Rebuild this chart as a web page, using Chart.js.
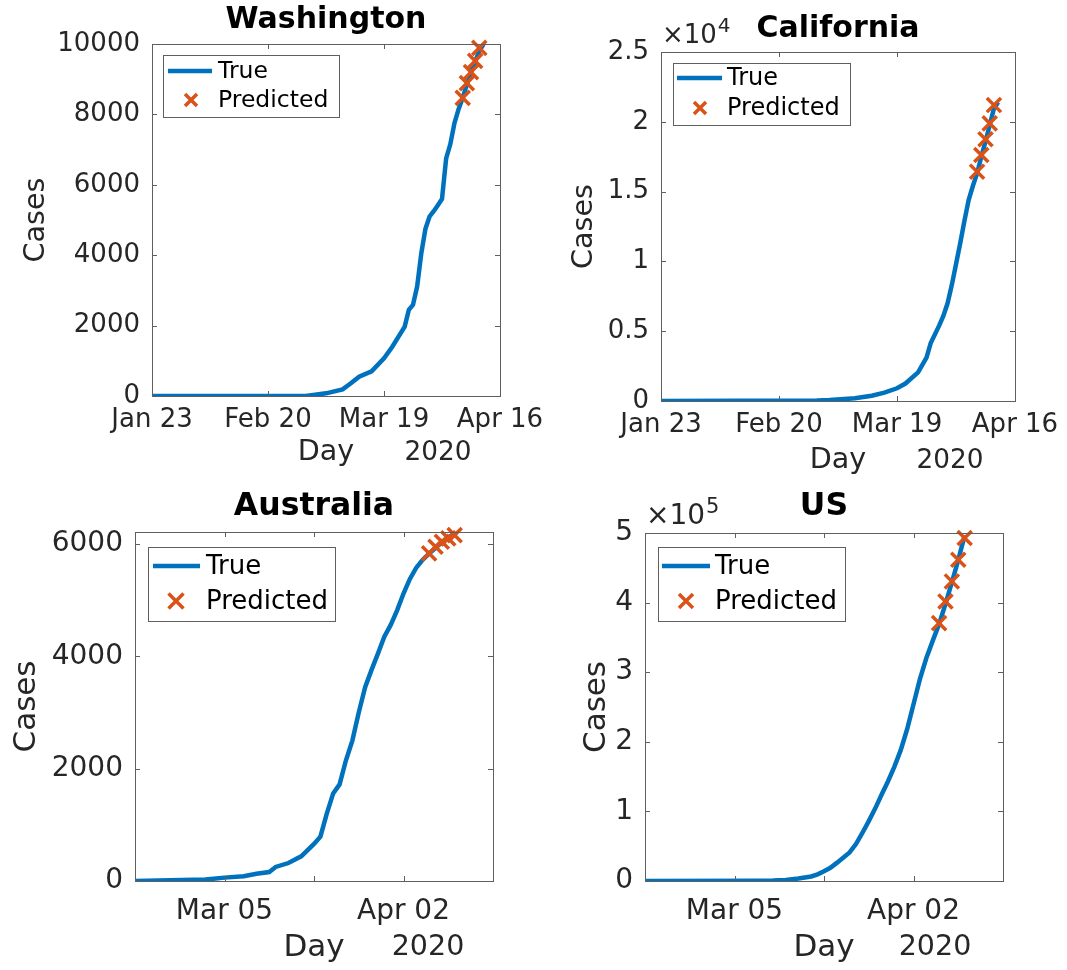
<!DOCTYPE html>
<html>
<head>
<meta charset="utf-8">
<script src="https://cdn.jsdelivr.net/npm/chart.js@4.4.1/dist/chart.umd.min.js"></script>
<style>
body { margin: 0; background: #fff; }
#wrap { position: relative; width: 1067px; height: 970px; overflow: hidden; }
canvas { position: absolute; }
</style>
</head>
<body>
<div id="wrap">
<canvas id="wa" width="545" height="485" style="left:0;top:0"></canvas>
<canvas id="ca" width="534" height="485" style="left:533px;top:0"></canvas>
<canvas id="au" width="545" height="485" style="left:0;top:485px"></canvas>
<canvas id="us" width="534" height="485" style="left:533px;top:485px"></canvas>
</div>
<script>
// days are day-of-year 2020 (Jan 23 = 23, Mar 05 = 65, Apr 16 = 107)

// Washington
var waTrueDays  = [23, 60, 61, 65, 69, 71, 73, 76, 79, 81, 84, 85, 86, 87, 88, 89, 90, 91, 92, 93, 94, 95, 96, 97, 98, 99, 100, 101, 102, 103];
var waTrueCases = [0, 0, 15, 76, 189, 360, 549, 700, 1070, 1400, 1970, 2450, 2590, 3110, 4050, 4750, 5100, 5250, 5420, 5600, 6750, 7150, 7750, 8150, 8470, 8850, 9200, 9500, 9800, 9990];
var waPredDays  = [98, 99, 100, 101, 102];
var waPredCases = [8470, 8890, 9200, 9520, 9890];

// California
var caTrueDays  = [23, 60, 63, 69, 73, 76, 79, 81, 84, 86, 87, 89, 90, 91, 92, 93, 94, 95, 96, 97, 98, 99, 100, 101, 102, 103];
var caTrueCases = [0, 40, 72, 190, 380, 600, 910, 1250, 2050, 3100, 4150, 5400, 6100, 7000, 8300, 9800, 11300, 12900, 14400, 15400, 16300, 17500, 18600, 19750, 20950, 21400];
var caPredDays  = [98, 99, 100, 101, 102];
var caPredCases = [16425, 17620, 18750, 19890, 21200];

// Australia
var auTrueDays  = [51, 62, 65, 68, 70, 72, 73, 75, 77, 79, 80, 81, 82, 83, 84, 85, 86, 87, 88, 89, 90, 91, 92, 93, 94, 95, 96, 97, 98, 99, 100, 101];
var auTrueCases = [0, 25, 60, 85, 130, 160, 250, 320, 440, 660, 790, 1200, 1560, 1720, 2150, 2500, 3000, 3450, 3760, 4050, 4350, 4560, 4820, 5120, 5380, 5580, 5720, 5830, 5930, 6030, 6110, 6200];
var auPredDays  = [97, 98, 99, 100, 101];
var auPredCases = [5834, 5952, 6041, 6101, 6160];

// US
var usTrueDays  = [51, 69, 71, 73, 75, 77, 78, 79, 80, 81, 82, 83, 84, 85, 86, 87, 88, 89, 90, 91, 92, 93, 94, 95, 96, 97, 98, 99, 100, 101];
var usTrueCases = [0, 200, 600, 1500, 3500, 6500, 9500, 14000, 19000, 26000, 33500, 41000, 53000, 69000, 86000, 104000, 124000, 143000, 164000, 188000, 218000, 254000, 290000, 320000, 345000, 369000, 398000, 429000, 461000, 496500];
var usPredDays  = [97, 98, 99, 100, 101];
var usPredCases = [370500, 401600, 430400, 461600, 492800];

// ticks
var longTicks   = [23, 51, 79, 107];
var longLabels  = ['Jan 23', 'Feb 20', 'Mar 19', 'Apr 16'];
var shortTicks  = [51, 65, 79, 93, 107];
var shortLabels = ['', 'Mar 05', '', 'Apr 02', ''];
var waYTicks  = [0, 2000, 4000, 6000, 8000, 10000];
var waYLabels = ['0', '2000', '4000', '6000', '8000', '10000'];
var caYTicks  = [0, 5000, 10000, 15000, 20000, 25000];
var caYLabels = ['0', '0.5', '1', '1.5', '2', '2.5'];
var auYTicks  = [0, 2000, 4000, 6000];
var auYLabels = ['0', '2000', '4000', '6000'];
var usYTicks  = [0, 100000, 200000, 300000, 400000, 500000];
var usYLabels = ['0', '1', '2', '3', '4', '5'];

var FONT = 'DejaVu Sans';
var BLUE = '#0072BD';
var ORANGE = '#D95319';
var INK = '#262626';
var AXIS = '#5f5f5f';

function drawX(ctx, x, y, h, w) {
  ctx.beginPath();
  ctx.moveTo(x - h, y - h); ctx.lineTo(x + h, y + h);
  ctx.moveTo(x - h, y + h); ctx.lineTo(x + h, y - h);
  ctx.lineWidth = w;
  ctx.stroke();
}

// matlab style box, inward ticks, legend, year and exponent
var matlabBox = {
  id: 'matlab',
  afterDraw: function(chart, args, o) {
    var ctx = chart.ctx, a = chart.chartArea;
    var xs = chart.scales.x, ys = chart.scales.y;
    ctx.save();
    ctx.strokeStyle = AXIS;
    ctx.lineWidth = 1;
    ctx.strokeRect(Math.round(a.left) + 0.5, Math.round(a.top) + 0.5, Math.round(a.right - a.left), Math.round(a.bottom - a.top));
    ctx.beginPath();
    xs.ticks.forEach(function(t) {
      var px = Math.round(xs.getPixelForValue(t.value)) + 0.5;
      ctx.moveTo(px, a.bottom); ctx.lineTo(px, a.bottom - 5);
      ctx.moveTo(px, a.top); ctx.lineTo(px, a.top + 5);
    });
    ys.ticks.forEach(function(t) {
      var py = Math.round(ys.getPixelForValue(t.value)) + 0.5;
      ctx.moveTo(a.left, py); ctx.lineTo(a.left + 5, py);
      ctx.moveTo(a.right, py); ctx.lineTo(a.right - 5, py);
    });
    ctx.stroke();

    // year under the date axis
    ctx.fillStyle = INK;
    ctx.font = o.labelSize * 0.92 + 'px "' + FONT + '"';
    ctx.textAlign = 'center';
    ctx.textBaseline = 'middle';
    ctx.fillText('2020', o.yearX, o.dayY);

    // exponent
    if (o.expo) {
      ctx.textAlign = 'left';
      ctx.textBaseline = 'alphabetic';
      ctx.font = o.tickSize + 'px "' + FONT + '"';
      var base = '\u00d710';
      ctx.fillText(base, a.left + 1, o.expo.y);
      var bw = ctx.measureText(base).width;
      ctx.font = Math.round(o.tickSize * 0.75) + 'px "' + FONT + '"';
      ctx.fillText(o.expo.sup, a.left + 1 + bw + 1, o.expo.y - 11);
    }

    // legend
    var lg = o.legend;
    var lx = a.left + lg.x, ly = a.top + lg.y;
    ctx.fillStyle = '#fff';
    ctx.fillRect(lx, ly, lg.w, lg.h);
    ctx.strokeStyle = AXIS;
    ctx.lineWidth = 1;
    ctx.strokeRect(Math.round(lx) + 0.5, Math.round(ly) + 0.5, lg.w, lg.h);
    var ds = chart.data.datasets;
    ctx.strokeStyle = ds[0].borderColor;
    ctx.lineWidth = 4.5;
    ctx.beginPath();
    ctx.moveTo(a.left + lg.line[0], a.top + lg.rows[0]);
    ctx.lineTo(a.left + lg.line[1], a.top + lg.rows[0]);
    ctx.stroke();
    ctx.strokeStyle = ds[1].borderColor;
    drawX(ctx, a.left + lg.markX, a.top + lg.rows[1], lg.mark, 3.5);
    ctx.fillStyle = '#000';
    ctx.font = o.legendSize + 'px "' + FONT + '"';
    ctx.textAlign = 'left';
    ctx.textBaseline = 'middle';
    ctx.fillText(ds[0].label, a.left + lg.textX, a.top + lg.rows[0] + 1);
    ctx.fillText(ds[1].label, a.left + lg.textX, a.top + lg.rows[1] + 1);
    ctx.restore();
  }
};

function points(days, cases) {
  return days.map(function(d, i) { return { x: d, y: cases[i] }; });
}

function panel(id, s) {
  var canvas = document.getElementById(id);
  var W = canvas.width, H = canvas.height;
  var a = s.area;
  var tLh = s.titleSize * 1.2;
  var tTop = s.titleY - tLh / 2;
  var lLh = s.labelSize * 1.2;
  var kLh = s.tickSize * 1.2;
  return new Chart(canvas, {
    type: 'line',
    data: {
      datasets: [
        { label: 'True', data: points(s.trueDays, s.trueCases), borderColor: BLUE, backgroundColor: BLUE,
          borderWidth: 4.5, pointRadius: 0, tension: 0, order: 1 },
        { label: 'Predicted', data: points(s.predDays, s.predCases), showLine: false, pointStyle: 'crossRot',
          pointRadius: 10, pointBorderWidth: 3.5, borderColor: ORANGE, backgroundColor: ORANGE, clip: false, order: 0 }
      ]
    },
    options: {
      responsive: false,
      animation: false,
      devicePixelRatio: 1,
      events: [],
      layout: { autoPadding: false, padding: { left: 0, top: 0, bottom: 0, right: W - a.right } },
      plugins: {
        legend: { display: false },
        tooltip: { enabled: false },
        title: {
          display: true, text: s.title, fullSize: false, color: '#000',
          font: { family: FONT, size: s.titleSize, weight: 'bold' },
          padding: { top: tTop, bottom: a.top - tTop - tLh }
        },
        matlab: s
      },
      scales: {
        x: {
          type: 'linear', min: s.xRange[0], max: s.xRange[1],
          grid: { display: false, drawTicks: false },
          border: { display: false },
          afterBuildTicks: function(sc) { sc.ticks = s.xTicks.map(function(v) { return { value: v }; }); },
          afterFit: function(sc) { sc.height = H - a.bottom; sc.paddingLeft = 0; sc.paddingRight = 0; },
          ticks: {
            autoSkip: false, maxRotation: 0, minRotation: 0, color: INK,
            font: { family: FONT, size: s.tickSize },
            padding: s.xTickGap - kLh / 2,
            callback: function(v, i) { return s.xLabels[i]; }
          },
          title: {
            display: true, text: 'Day', color: INK,
            font: { family: FONT, size: s.labelSize },
            padding: { top: 0, bottom: H - s.dayY - lLh / 2 }
          }
        },
        y: {
          type: 'linear', min: 0, max: s.yMax,
          grid: { display: false, drawTicks: false },
          border: { display: false },
          afterBuildTicks: function(sc) { sc.ticks = s.yTicks.map(function(v) { return { value: v }; }); },
          afterFit: function(sc) { sc.width = a.left; sc.paddingTop = 0; sc.paddingBottom = 0; },
          ticks: {
            autoSkip: false, color: INK, padding: 12,
            font: { family: FONT, size: s.tickSize },
            callback: function(v, i) { return s.yLabels[i]; }
          },
          title: {
            display: true, text: 'Cases', color: INK,
            font: { family: FONT, size: s.labelSize },
            padding: { top: s.casesX - lLh / 2, bottom: 0 }
          }
        }
      }
    },
    plugins: [matlabBox]
  });
}

panel('wa', {
  title: 'Washington', trueDays: waTrueDays, trueCases: waTrueCases, predDays: waPredDays, predCases: waPredCases,
  area: { left: 152, top: 44, right: 500, bottom: 396 },
  titleY: 20, titleSize: 30, tickSize: 26, labelSize: 28.6, legendSize: 23.5,
  xRange: [23, 107], xTicks: longTicks, xLabels: longLabels,
  yMax: 10000, yTicks: waYTicks, yLabels: waYLabels,
  xTickGap: 24, dayY: 453, casesX: 37, yearX: 438,
  legend: { x: 11, y: 11, w: 176, h: 62, rows: [27, 56], line: [16, 60], markX: 39, mark: 6, textX: 66 }
});

panel('ca', {
  title: 'California', trueDays: caTrueDays, trueCases: caTrueCases, predDays: caPredDays, predCases: caPredCases,
  area: { left: 128, top: 52, right: 482, bottom: 401 },
  titleY: 29, titleSize: 30, tickSize: 26, labelSize: 28.6, legendSize: 24,
  xRange: [23, 107], xTicks: longTicks, xLabels: longLabels,
  yMax: 25000, yTicks: caYTicks, yLabels: caYLabels,
  xTickGap: 24, dayY: 461, casesX: 52, yearX: 417,
  expo: { y: 43, sup: '4' },
  legend: { x: 12, y: 11, w: 177, h: 62, rows: [26, 56], line: [16, 61], markX: 39, mark: 6, textX: 66 }
});

panel('au', {
  title: 'Australia', trueDays: auTrueDays, trueCases: auTrueCases, predDays: auPredDays, predCases: auPredCases,
  area: { left: 135, top: 47, right: 493, bottom: 396 },
  titleY: 22, titleSize: 31.5, tickSize: 28, labelSize: 31, legendSize: 26,
  xRange: [51, 107], xTicks: shortTicks, xLabels: shortLabels,
  yMax: 6215, yTicks: auYTicks, yLabels: auYLabels,
  xTickGap: 31, dayY: 463, casesX: 27, yearX: 428,
  legend: { x: 13, y: 15, w: 187, h: 74, rows: [34, 69], line: [18, 65], markX: 41, mark: 7.5, textX: 71 }
});

panel('us', {
  title: 'US', trueDays: usTrueDays, trueCases: usTrueCases, predDays: usPredDays, predCases: usPredCases,
  area: { left: 112, top: 48, right: 470, bottom: 396 },
  titleY: 22, titleSize: 31.5, tickSize: 28, labelSize: 31, legendSize: 26,
  xRange: [51, 107], xTicks: shortTicks, xLabels: shortLabels,
  yMax: 500000, yTicks: usYTicks, yLabels: usYLabels,
  xTickGap: 31, dayY: 463, casesX: 64, yearX: 402,
  expo: { y: 39, sup: '5' },
  legend: { x: 13, y: 14, w: 187, h: 74, rows: [33, 68], line: [17, 65], markX: 41, mark: 7, textX: 70 }
});
</script>
</body>
</html>
